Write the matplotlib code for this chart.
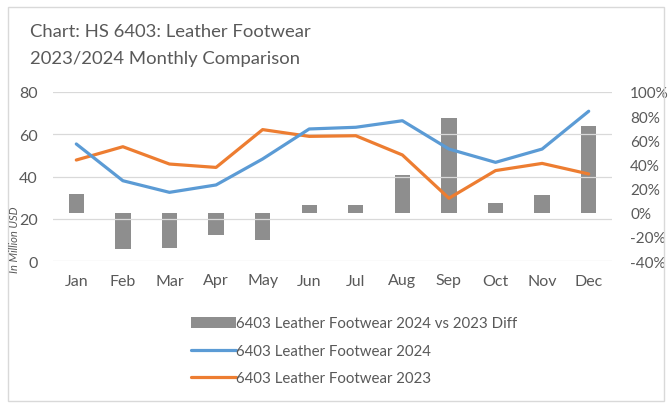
import matplotlib.pyplot as plt
from matplotlib.patches import Rectangle
from matplotlib.ticker import FuncFormatter

months = ["Jan", "Feb", "Mar", "Apr", "May", "Jun", "Jul", "Aug", "Sep", "Oct", "Nov", "Dec"]
fw_2024 = [55.4, 38.0, 32.5, 36.0, 48.3, 62.5, 63.3, 66.4, 53.0, 46.7, 53.0, 70.9]
fw_2023 = [47.8, 54.1, 45.9, 44.3, 62.2, 59.0, 59.3, 50.2, 29.7, 42.8, 46.2, 41.2]
diff_pct = [15.2, -29.8, -29.0, -18.2, -23.0, 6.6, 6.6, 30.9, 78.4, 8.3, 14.3, 71.5]

txt = "#595959"
plt.rcParams['font.family'] = ['Lato', 'DejaVu Sans']

fig = plt.figure(figsize=(6.69, 4.06), dpi=100)
W, H = 669, 406
ax = fig.add_axes([53 / W, 1 - 262 / H, (612 - 53) / W, (262 - 93) / H])
ax2 = ax.twinx()

x = list(range(len(months)))
ax2.bar(x, diff_pct, width=0.33, color="#8e8e8e", zorder=1,
        label="6403 Leather Footwear 2024 vs 2023 Diff")
ax.plot(x, fw_2023, color="#ED7D31", lw=2.3, solid_capstyle="round",
        label="6403 Leather Footwear 2023", zorder=3)
ax.plot(x, fw_2024, color="#5B9BD5", lw=2.3, solid_capstyle="round",
        label="6403 Leather Footwear 2024", zorder=4)

# lines in front of bars
ax.set_zorder(ax2.get_zorder() + 1)
ax.patch.set_visible(False)

ax.set_xlim(-0.5, 11.5)
ax.set_ylim(0, 80)
ax.set_yticks([0, 20, 40, 60, 80])
ax2.set_ylim(-40, 100)
ax2.set_yticks(range(-40, 101, 20))
ax2.yaxis.set_major_formatter(FuncFormatter(lambda v, p: f"{int(v)}%"))
ax.set_xticks(x)
ax.set_xticklabels(months)

ax.grid(axis="y", color="#d9d9d9", lw=0.9)
ax.set_axisbelow(True)
for a in (ax, ax2):
    for s in a.spines.values():
        s.set_visible(False)
    a.tick_params(length=0, colors=txt, labelsize=11.5)
ax.tick_params(axis="x", pad=9)
ax.tick_params(axis="y", pad=11)
ax2.tick_params(axis="y", pad=13, labelsize=11)

fig.text(14 / W, 1 - 240 / H, "In Million USD", rotation=90, style="italic",
         fontsize=8, color=txt, ha="center", va="center")

fig.text(30 / W, 1 - 32 / H, "Chart: HS 6403: Leather Footwear", fontsize=13.3,
         color=txt, va="center")
fig.text(30 / W, 1 - 59 / H, "2023/2024 Monthly Comparison", fontsize=13.3,
         color=txt, va="center")

h1, l1 = ax2.get_legend_handles_labels()
h2, l2 = ax.get_legend_handles_labels()
handles = [h1[0], h2[1], h2[0]]
labels = [l1[0], l2[1], l2[0]]
fig.legend(handles, labels, loc="upper left", bbox_to_anchor=(177 / W, 1 - 304 / H),
           frameon=False, fontsize=10.8, labelcolor=txt, handlelength=3.0,
           handletextpad=0.05, labelspacing=0.9)

fig.patches.append(Rectangle((8 / W, 1 - 402 / H), (664 - 8) / W, (402 - 8) / H,
                             transform=fig.transFigure, fill=False,
                             edgecolor="#d9d9d9", lw=1))

fig.savefig("out.png", dpi=100)
